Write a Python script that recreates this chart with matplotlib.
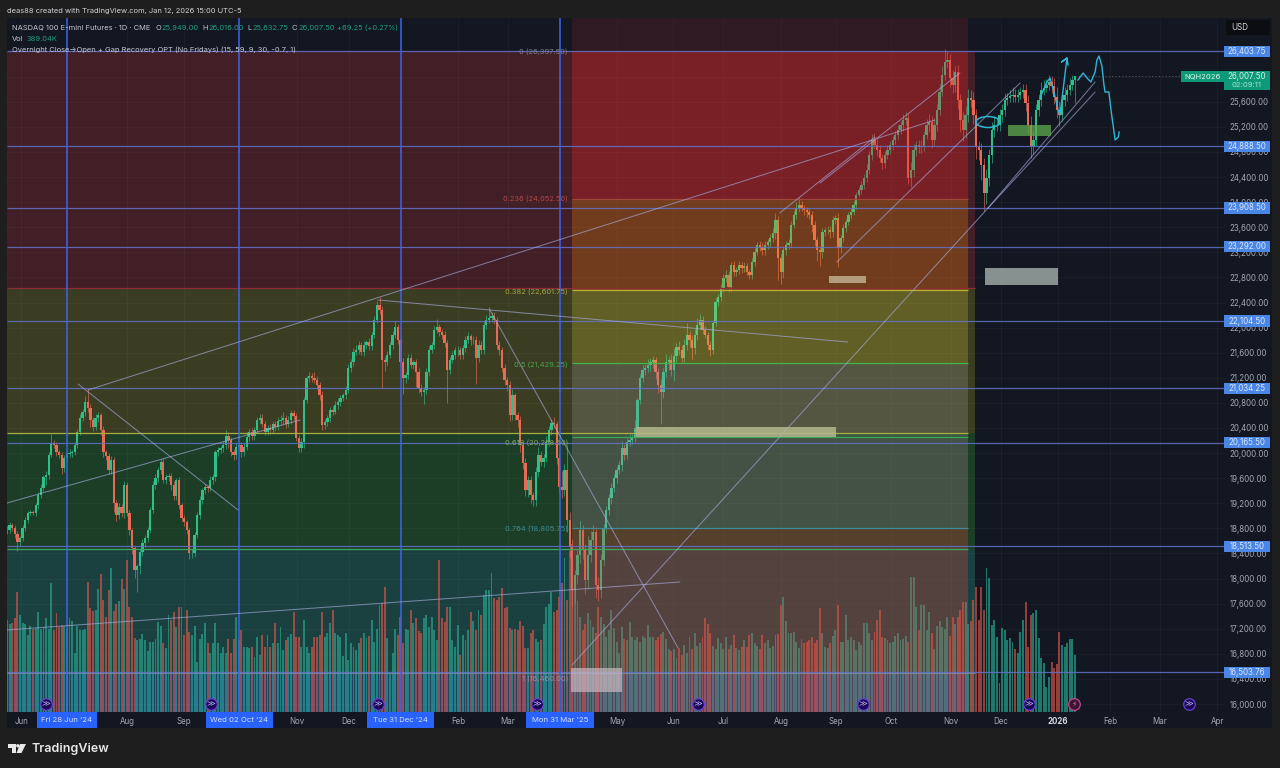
import numpy as np
import matplotlib
matplotlib.use("Agg")
import matplotlib.pyplot as plt
from matplotlib.patches import Rectangle, Ellipse, Polygon
from matplotlib.transforms import blended_transform_factory

plt.rcParams['font.family'] = ['Inter', 'Noto Sans', 'DejaVu Sans']

closes = [
18775,18855,18805,18710,18585,18645,18805,18935,19045,19060,
19045,19170,19330,19440,19615,19650,19970,20160,20130,20015,
19970,19760,19920,19985,20000,20015,20130,20335,20560,20655,
20815,20720,20530,20415,20560,20605,20365,20015,19950,19730,
19890,19205,19015,19140,19045,19490,19045,18775,18485,18135,
18200,18425,18565,18645,18775,19090,19490,19600,19730,19855,
19570,19620,19635,19490,19315,19570,19170,18965,18900,18775,
18405,18405,18695,19015,19250,19410,19460,19445,19570,19620,
20015,20050,20080,20130,20270,20210,20015,19970,20100,20130,
20015,20100,20260,20340,20275,20370,20530,20560,20465,20340,
20400,20370,20465,20415,20510,20530,20560,20465,20530,20640,
20590,20240,20080,20175,20845,21195,21230,21195,21165,21085,
20925,20445,20495,20560,20685,20655,20765,20815,20880,20925,
21005,21355,21450,21610,21645,21725,21610,21725,21770,21705,
21880,22120,22360,22280,21485,21450,21565,21725,21880,22010,
21800,21450,21195,21245,21515,21405,21450,21290,21035,20975,
21005,21290,21645,21725,21960,22010,21930,21880,21755,21325,
21485,21565,21645,21645,21565,21675,21800,21865,21800,21800,
21515,21725,21645,22040,22120,22155,22185,22120,21725,21645,
21355,21165,21085,20605,20925,20605,20530,20130,19840,19410,
19570,19330,19250,19700,19970,19860,19920,20175,20365,20480,
20465,19920,19460,19410,19730,18935,18505,17815,18055,18375,
18775,18455,17975,18375,18615,18740,17895,17815,18295,18805,
19090,19285,19445,19600,19730,19810,20080,19970,20175,20210,
20240,20400,20845,21195,21325,21355,21405,21450,21485,21290,
21085,20975,21290,21450,21485,21325,21545,21690,21645,21515,
21725,21880,21800,21675,21880,22040,22120,21960,21880,21725,
21645,22075,22410,22490,22630,22790,22840,22650,23000,22885,
22920,23000,22950,22980,22885,22840,23045,23205,23315,23285,
23235,23315,23365,23430,23510,23715,23110,22885,23235,23315,
23350,23635,23795,23905,23955,23905,23875,23845,23795,23635,
23395,23235,23205,23525,23555,23555,23525,23715,23745,23270,
23430,23590,23685,23795,23845,23955,24115,24195,24275,24385,
24510,24750,24990,24910,24830,24705,24625,24750,24830,24910,
24990,25070,25150,25230,25310,25340,24385,24515,24830,24910,
24880,24895,25070,25230,25280,24990,25230,25470,25755,26025,
26235,26265,25980,25870,26075,25630,25310,25150,25390,25660,
25630,25390,24880,24830,24590,24145,24385,24750,25150,25230,
25230,25390,25470,25630,25660,25695,25710,25680,25710,25755,
25790,25580,25230,24895,24990,25470,25630,25790,25820,25870,
25915,25855,25680,25470,25390,25630,25710,25790,25870,25950,26007]

wick_up = [
60,40,30,50,40,30,50,40,30,40,
30,40,50,60,40,60,40,140,50,40,
30,40,50,40,60,40,40,50,60,40,
90,200,60,40,60,50,40,70,40,50,
60,50,40,60,50,60,50,40,30,40,
30,40,60,50,40,50,60,60,40,50,
60,40,50,40,60,40,50,40,40,30,
30,60,40,50,60,40,40,30,60,50,
40,50,40,60,100,60,40,50,60,40,
40,60,70,50,60,40,50,60,60,50,
50,60,40,50,60,70,90,50,60,50,
40,50,40,60,50,40,60,50,100,70,
40,60,50,40,50,60,70,60,50,40,
60,70,50,60,70,60,50,60,40,60,
50,60,70,120,60,50,60,40,70,100,
50,40,60,50,70,60,40,50,60,70,
50,70,60,40,60,120,40,40,70,50,
50,60,40,60,50,50,60,70,40,60,
60,70,60,70,80,170,60,70,50,60,
50,60,40,70,100,40,50,60,70,80,
60,70,50,80,120,60,70,90,70,60,
100,50,60,260,90,400,120,120,80,100,
150,80,100,300,150,120,80,130,100,60,
70,60,80,60,50,60,120,60,70,100,
60,120,40,60,80,60,100,60,70,50,
60,100,60,130,70,100,120,60,100,70,
90,200,60,80,100,120,90,70,60,50,
60,50,60,50,60,70,80,60,50,60,
50,60,40,60,50,40,70,60,50,60,
70,60,50,60,80,110,70,60,70,60,
60,70,60,100,120,60,50,40,60,70,
60,50,70,60,50,60,70,60,50,80,
50,60,40,50,60,60,50,40,60,70,
90,70,90,110,100,80,60,70,80,60,
70,60,80,70,90,100,80,120,90,70,
80,90,70,100,120,90,110,100,120,150,
200,150,100,120,90,110,100,120,150,140,
130,120,100,90,110,120,140,100,120,140,
110,100,90,110,80,100,120,90,100,80,
100,90,120,150,140,90,100,130,120,90,
110,100,120,150,140,100,120,90,110,80,9]

wick_dn = [
70,50,40,60,150,60,40,40,50,40,
40,50,60,40,50,120,60,40,50,60,
50,90,60,70,50,60,40,50,40,50,
60,70,120,60,50,60,80,70,60,70,
60,140,90,60,70,80,50,80,100,130,
350,120,70,60,60,50,50,70,60,60,
50,70,60,80,60,70,60,50,70,60,
90,70,60,50,60,60,70,60,50,60,
60,60,50,60,70,130,60,80,60,50,
70,60,50,60,70,60,50,60,50,60,
60,70,50,60,50,60,70,60,50,60,
60,50,70,60,90,50,60,70,50,60,
80,70,60,70,60,50,40,60,70,50,
60,50,60,70,50,60,50,60,70,60,
60,50,50,70,440,140,60,50,60,50,
60,70,250,80,60,50,60,240,70,60,
190,70,60,50,60,50,70,60,70,530,
60,50,70,90,60,70,60,50,70,60,
420,60,70,60,60,50,60,70,60,80,
70,80,90,100,70,80,110,120,100,90,
110,120,100,90,80,70,90,60,70,80,
60,90,100,120,100,200,180,260,200,150,
120,150,220,140,110,100,200,180,120,90,
80,70,90,60,70,60,90,80,60,70,
60,70,50,60,70,80,70,90,100,110,
120,510,100,80,120,100,180,90,80,70,
60,80,110,170,90,70,60,60,50,90,
100,60,50,60,70,60,70,80,60,70,
70,60,80,60,50,70,60,60,50,70,
80,70,60,80,70,90,350,190,90,80,
70,60,50,70,60,50,80,90,70,110,
100,170,220,90,70,60,90,80,70,310,
80,70,60,50,60,50,60,40,60,60,
70,60,80,60,90,70,100,80,70,60,
80,70,60,70,90,80,100,150,110,90,
100,90,80,70,110,130,100,90,80,70,
80,100,150,130,120,140,200,180,130,120,
110,140,190,160,240,280,170,130,120,110,
90,100,120,90,80,70,100,90,80,70,
100,130,150,190,120,100,90,100,80,70,
90,120,110,130,170,100,90,100,80,90,375]

volumes_k = [
630,600,605,640,822,660,605,600,525,590,
570,575,685,570,580,640,570,880,560,675,
580,595,590,570,640,620,400,590,560,560,
570,890,710,690,695,840,945,765,650,830,
985,690,740,755,910,840,1038,720,650,505,
490,500,535,490,420,480,480,500,615,590,
470,435,660,630,680,580,720,720,525,700,
545,525,590,340,500,530,605,470,400,470,
605,470,400,445,400,500,400,500,650,490,
560,445,445,435,445,378,515,390,525,445,
525,445,470,605,470,583,423,490,515,530,
685,515,515,445,628,445,400,445,515,515,
525,685,515,537,605,697,537,525,515,380,
540,355,470,445,423,470,503,537,503,520,
628,480,570,730,742,856,503,264,400,570,
525,650,470,570,560,695,610,640,550,540,
640,663,583,651,560,492,1038,640,617,720,
720,492,446,594,390,526,492,560,680,620,
560,697,663,799,833,833,947,777,765,788,
845,708,720,575,560,570,560,620,590,440,
440,540,560,500,480,490,600,720,740,820,
680,700,788,880,1050,765,1100,1150,860,760,
650,560,600,674,628,583,540,720,650,600,
515,560,697,571,480,400,583,500,492,617,
515,490,510,480,520,505,594,510,515,495,
510,535,549,500,430,420,430,370,440,390,
460,400,515,430,537,450,469,510,640,600,
537,450,430,505,470,430,510,430,460,525,
440,425,446,490,446,526,540,470,450,430,
526,470,490,440,450,526,530,731,788,620,
540,537,549,480,440,500,470,480,490,510,
470,490,708,540,446,440,470,520,560,731,
480,480,663,490,515,490,424,480,460,606,
606,537,492,549,628,697,515,503,492,469,
480,520,537,492,500,520,480,925,925,720,
560,731,731,560,685,540,430,590,620,580,
570,650,520,650,600,650,700,754,754,600,
620,765,856,630,856,700,981,913,594,628,
515,196,572,560,490,503,480,430,400,549,
628,754,446,663,674,697,503,367,333,173,
241,344,298,328,549,458,446,469,496,496,389]

price_ticks = list(range(16000, 26001, 400))
month_names = ["Jun","Aug","Sep","Nov","Dec","Feb","Mar","May","Jun","Jul","Aug","Sep","Oct","Nov","Dec","2026","Feb","Mar","Apr"]
month_bars = [5.4,46.1,67.9,111.3,131.3,173.1,192.3,234.2,255.7,274.9,297.1,318.2,339.3,362.4,381.6,403.5,423.4,442.6,464.5]
date_marks = ["Fri 28 Jun '24","Wed 02 Oct '24","Tue 31 Dec '24","Mon 31 Mar '25"]
date_bars = [23.0,89.1,151.2,212.3]
ray_prices = [26403.75,24888.50,23908.50,23292.00,22104.50,21034.25,20165.50,18513.50,16503.76]
ray_labels = ["26,403.75","24,888.50","23,908.50","23,292.00","22,104.50","21,034.25","20,165.50","18,513.50","16,503.76"]

fib_a_levels = [26403,22631,20322,18470,16494]
fib_b_levels = [26935,26397.5,24052.5,22601.75,21429.25,20258.5,18805.75,15872]
fib_labels = ["0 (26,397.50)","0.236 (24,052.50)","0.382 (22,601.75)","0.5 (21,429.25)","0.618 (20,258.50)","0.764 (18,805.75)","1 (16,460.00)"]
fib_label_prices = [26397.5,24052.5,22570,21400,20170,18790,16400]
fib_line_prices = [24052.5,22601.75,21429.25,20258.5,18805.75]

trend_lines = [
 ((31.1,21005),(356.2,25309)),((27.3,21100),(88.7,19092)),((0,19204),(112.5,20527)),
 ((142.4,22440),(322.8,21770)),((185.4,22280),(257.6,16893)),((0,17180),(258.3,17945)),
 ((216.9,16622),(376.6,23906)),((376.6,23906),(417.7,25915)),((376.6,23906),(417.7,25755)),
 ((312.1,24305),(365.8,26058)),((318.6,23045),(388.9,25899)),((296.7,23827),(333.2,25038))]
boxes = [(315.5,329.8,22711,22822,'#c9bea0',0.75),(241.5,318.2,20256,20415,'#b8bd92',0.8),
         (375.4,403.5,22679,22950,'#a5b2ad',0.8),(384.3,400.8,25054,25229,'#5fa94f',0.75),
         (216.5,236.1,16191,16574,'#c8b8c0',0.7)]
sketch_a_bars = [396.5,399.2,400.4,401.9,403.5,404.2,405.4,406.9,404.8,406.9,407.3]
sketch_a_prices = [25660,25915,25978,25755,25468,25389,25787,26297,26233,26297,26186]
sketch_b_bars = [411.1,413.1,414.6,416.1,417.7,418.4,419.2,420.3,421.1,421.5,423,423.8,424.6,425.4,426.6,426.9]
sketch_b_prices = [25947,26058,25978,25915,26074,26265,26329,26170,25867,25755,25755,25468,25229,24990,25038,25118]
event_bars = [15,78.3,142.4,203.5,265.3,328.6,392.3,453.8]
lightning_bar = 409.7

NAVY = '#131722'; FRAME = '#1e1e1e'
PX_X = 2.605; PX_Y = 15.94
VOL_SCALE = PX_Y / 6.83   # price units for 1K of volume
FS = 5.7                  # axis label size

fig = plt.figure(figsize=(12.8, 7.68), dpi=100, facecolor=FRAME)
def fx(x): return x / 1280
def fy(y): return 1 - y / 768
fig.patches.append(Rectangle((fx(7), fy(728)), (1272-7)/1280, (728-18)/768, transform=fig.transFigure, fc=NAVY, ec='none', zorder=-5))
ax = fig.add_axes([fx(7), fy(712), 1218/1280, 694/768], zorder=2)
ax.set_facecolor(NAVY)
ax.set_xlim(0, 1218 / PX_X)
ax.set_ylim(15872.5, 26935)
for s in ax.spines.values(): s.set_visible(False)
ax.yaxis.tick_right()
ax.set_yticks(price_ticks)
ax.set_yticklabels([f"{p:,.2f}" for p in price_ticks], fontsize=FS, color='#a4a7b0')
ax.set_xticks(month_bars)
ax.set_xticklabels(month_names, fontsize=FS, color='#a4a7b0')
ax.tick_params(length=0, pad=3.5)
ax.tick_params(axis='y', pad=3)
for lab, nm in zip(ax.get_xticklabels(), month_names):
    if nm == "2026":
        lab.set_fontweight('bold'); lab.set_color('#d6d8dd')
ax.grid(True, color='#ffffff', alpha=0.03, lw=0.8, zorder=1)
ax.set_axisbelow(True)

# first retracement bands
cols_a = ['#421e27', '#3a3d22', '#1c3d26', '#1b4040']
for top, bot, c in zip(fib_a_levels[:-1], fib_a_levels[1:], cols_a):
    ax.add_patch(Rectangle((0, bot), 371.6, top-bot, fc=c, ec='none', zorder=0.5))
ax.add_patch(Rectangle((0, 15872.5), 371.6, fib_a_levels[-1]-15872.5, fc='#1b4040', ec='none', zorder=0.5))

# candles and volume
c = np.array(closes, float)
o = np.r_[c[0], c[:-1]]
hi = np.maximum(o, c) + np.array(wick_up)
lo = np.minimum(o, c) - np.array(wick_dn)
xs = np.arange(len(c))
up = c >= o
UPC = '#2fc08a'; DNC = '#ea6a55'
vol = np.array(volumes_k, float) * VOL_SCALE
ax.bar(xs[up], vol[up], width=0.74, bottom=15872.5, color='#27a58f', alpha=0.68, zorder=2, lw=0)
ax.bar(xs[~up], vol[~up], width=0.74, bottom=15872.5, color='#e4574c', alpha=0.62, zorder=2, lw=0)
ax.vlines(xs[up], lo[up], hi[up], color=UPC, lw=0.55, alpha=0.8, zorder=3)
ax.vlines(xs[~up], lo[~up], hi[~up], color=DNC, lw=0.55, alpha=0.8, zorder=3)
ax.bar(xs[up], (c-o)[up], bottom=o[up], width=0.88, color=UPC, zorder=3.1, lw=0)
ax.bar(xs[~up], (c-o)[~up], bottom=o[~up], width=0.88, color=DNC, zorder=3.1, lw=0)

# second retracement overlay
over = [('#ef2c24',0.13),('#ef2624',0.32),('#ff9800',0.25),('#ffe53b',0.20),('#a4a49e',0.25),('#d0a0b0',0.22),('#d9493c',0.30)]
for i,(col,a) in enumerate(over):
    ax.add_patch(Rectangle((216.9, fib_b_levels[i+1]), 368.9-216.9, fib_b_levels[i]-fib_b_levels[i+1], fc=col, alpha=a, ec='none', zorder=4))
ax.add_patch(Rectangle((0, 15872.5), 368.9, fib_a_levels[-1]-15872.5, fc='#3b62ff', alpha=0.14, ec='none', zorder=4))

# fib level lines
ax.hlines(fib_a_levels[1], 0, 371.6, color='#8f2a36', lw=0.9, zorder=5)
ax.hlines(fib_a_levels[2], 0, 368.9, color='#a8b040', lw=0.9, zorder=5)
ax.hlines(fib_a_levels[3], 0, 368.9, color='#3fa863', lw=0.9, zorder=5)
ax.hlines(fib_a_levels[4], 0, 371.6, color='#c9ccd2', lw=0.8, alpha=0.35, zorder=5)
for p, col in zip(fib_line_prices, ['#a0483a','#c2ac36','#3fb64a','#3aa65a','#3f8a9a']):
    ax.hlines(p, 216.9, 368.9, color=col, lw=0.9, zorder=5)
for t, p, col in zip(fib_labels, fib_label_prices, ['#7c7d84','#b54848','#a8a143','#4aa553','#86a566','#3c8d96','#8f909a']):
    ax.text(215.4, p, t, ha='right', va='center', fontsize=5.4, color=col, zorder=9)

# rays and verticals
for p in ray_prices:
    ax.hlines(p, 0, 1218/PX_X, color='#6272c8', lw=0.9, alpha=0.85, zorder=6)
ax.vlines(date_bars, 15872.5, 26935, color='#3d64ea', lw=1.1, zorder=6)

# trend lines
for (a, b) in trend_lines:
    ax.plot([a[0], b[0]], [a[1], b[1]], color='#a9aee0', lw=0.75, alpha=0.62, zorder=6.5, solid_capstyle='round')
for x0, x1, y0, y1, col, a in boxes:
    ax.add_patch(Rectangle((x0, y0), x1-x0, y1-y0, fc=col, alpha=a, ec='none', zorder=7))

# hand-drawn sketches
CY = '#2fb6d6'
ax.add_patch(Ellipse((376.6, 25277), 9.2, 175, fc='none', ec=CY, lw=1.1, zorder=8))
ax.plot(sketch_a_bars, sketch_a_prices, color=CY, lw=1.0, zorder=8)
ax.plot(sketch_b_bars, sketch_b_prices, color=CY, lw=1.0, zorder=8)

# current price dotted line
ax.hlines(closes[-1], len(closes)-1, 1218/PX_X, color='#4f5a62', lw=0.8, ls=(0,(1,2)), zorder=5)

# price-axis boxes
ty = blended_transform_factory(ax.transAxes, ax.transData)
txd = blended_transform_factory(ax.transData, ax.transAxes)
for p, lab in zip(ray_prices, ray_labels):
    ax.add_patch(Rectangle((1 - 1/1218, p-90), 46/1218, 180, transform=ty, fc='#4a86e6', ec='none', zorder=12, clip_on=False))
    ax.text(1 + 22/1218, p, lab, transform=ty, ha='center', va='center', fontsize=FS, color='#dbe7fb', zorder=13, clip_on=False)
ax.add_patch(Rectangle((1 - 1/1218, closes[-1]-215), 46/1218, 305, transform=ty, fc='#0e9a78', ec='none', zorder=12, clip_on=False))
ax.text(1 + 22/1218, closes[-1], "26,007.50", transform=ty, ha='center', va='center', fontsize=FS, color='#d9f2ea', zorder=13, clip_on=False)
ax.text(1 + 22/1218, closes[-1]-135, "02:09:11", transform=ty, ha='center', va='center', fontsize=5.5, color='#a8e0cf', zorder=13, clip_on=False)
ax.add_patch(Rectangle((1 - 44/1218, closes[-1]-90), 43/1218, 180, transform=ty, fc='#0e9a78', ec='none', zorder=12, clip_on=False))
ax.text(1 - 22.5/1218, closes[-1], "NQH2026", transform=ty, ha='center', va='center', fontsize=5.5, color='#d9f2ea', zorder=13, clip_on=False)

# time-axis boxes
DW = [30, 33.5, 33.5, 34]
for b, lab, w in zip(date_bars, date_marks, DW):
    ax.add_patch(Rectangle((b - w/PX_X, -16/694), 2*w/PX_X, 16/694, transform=txd, fc='#2962ff', ec='none', zorder=12, clip_on=False))
    ax.text(b, -8/694, lab, transform=txd, ha='center', va='center', fontsize=5.6, color='#d5e0ff', zorder=13, clip_on=False)

# event markers
ax.scatter(event_bars, [16000]*len(event_bars), s=70, fc='#180a55', ec='#6a3fd0', lw=0.9, zorder=10)
for b in event_bars:
    ax.text(b, 16000, "≫", ha='center', va='center', fontsize=6, color='#b9a8f0', zorder=11, family=['DejaVu Sans'])
ax.scatter([lightning_bar], [16000], s=70, fc='#3a1530', ec='#c04a90', lw=0.9, zorder=10)
ax.text(lightning_bar, 16000, "⚡", ha='center', va='center', fontsize=5.5, color='#e070b0', zorder=11, family=['DejaVu Sans'])

# header texts
def T(x, y, s, col, size=5.4, **kw):
    fig.text(fx(x), fy(y), s, color=col, fontsize=size, va='center', ha='left', zorder=20, **kw)
T(7, 11, "deas88 created with TradingView.com, Jan 12, 2026 15:00 UTC-5", '#d0d2d6', 5.4)
G = '#1f9d7d'
LT = '#c5c8ce'
T(12, 28, "NASDAQ 100 E-mini Futures · 1D · CME", LT)
for x, s, col in [(155,"O",LT),(161,"25,949.00",G),(202,"H",LT),(208,"26,016.00",G),(247,"L",LT),(252,"25,632.75",G),
                  (292,"C",LT),(298,"26,007.50",G),(337,"+69.25 (+0.27%)",G)]:
    T(x, 28, s, col)
T(12, 39, "Vol", LT); T(27, 39, "389.04K", G)
T(12, 50, "Overnight Close→Open + Gap Recovery OPT (No Fridays) (15, 59, 9, 30, -0.7, 1)", LT)

# USD box
fig.patches.append(Rectangle((fx(1226), fy(35)), 44/1280, 15/768, transform=fig.transFigure, fc='#0c0d11', ec='none', zorder=5))
T(1231, 28, "USD", '#d0d2d6', 5.8)

# TradingView logo
logo = [Polygon([(fx(8),fy(744)),(fx(15.5),fy(744)),(fx(15.5),fy(753)),(fx(11.5),fy(753)),(fx(11.5),fy(747.5)),(fx(8),fy(747.5))]),
        Polygon([(fx(20),fy(744)),(fx(26),fy(744)),(fx(21.5),fy(753)),(fx(16.5),fy(753))]),
        Ellipse((fx(17.8),fy(745.8)), 3.4/1280, 3.4/768)]
for p in logo:
    p.set_transform(fig.transFigure); p.set_facecolor('#e8e8e8'); p.set_edgecolor('none')
    fig.patches.append(p)
T(31, 749, "TradingView", '#e8e8e8', 9.0, fontweight='semibold')

fig.savefig("out.png", dpi=100, facecolor=FRAME)
